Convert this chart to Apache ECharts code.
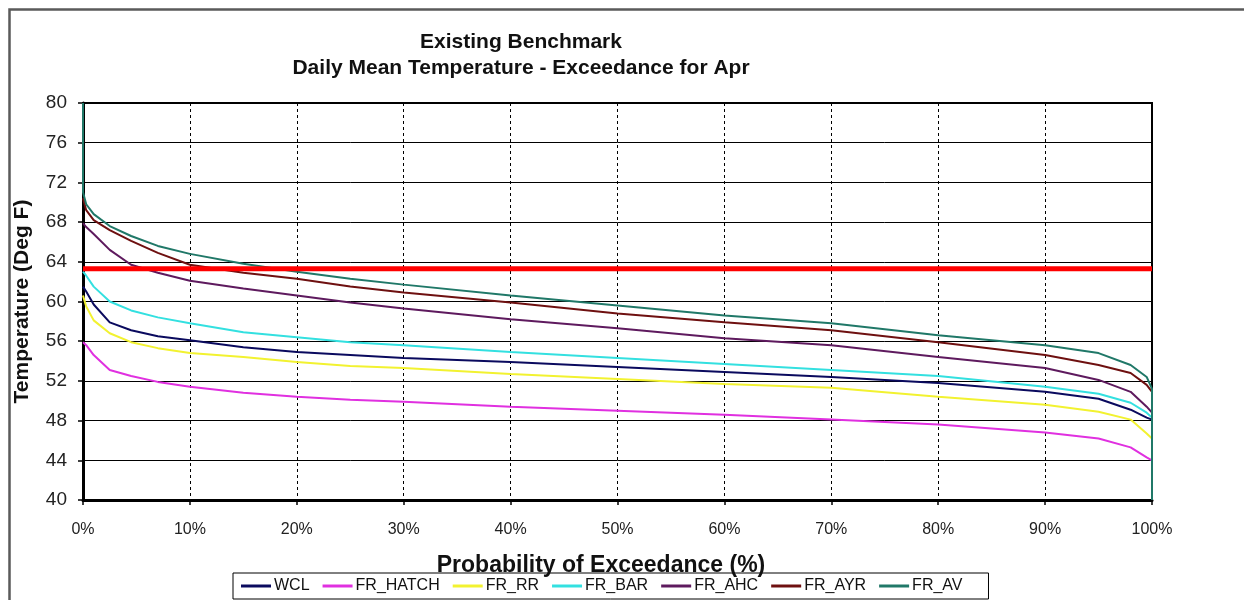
<!DOCTYPE html>
<html>
<head>
<meta charset="utf-8">
<script src="https://cdn.jsdelivr.net/npm/echarts@6/dist/echarts.min.js"></script>
<style>
html,body{margin:0;padding:0;background:#fff;}
#chart{width:1244px;height:600px;}
</style>
</head>
<body>
<div id="chart"></div>
<script>
// Probability of exceedance (%)
const P = [0, 0.3, 1, 2.5, 4.5, 7, 10, 15, 20, 25, 30, 40, 50, 60, 70, 80, 90, 95, 98, 99.5, 100];
const WCL      = [61.5, 61.0, 59.7, 57.9, 57.1, 56.5, 56.1, 55.4, 54.9, 54.6, 54.3, 53.9, 53.4, 52.9, 52.4, 51.8, 50.9, 50.2, 49.1, 48.3, 48.1];
const FR_HATCH = [55.9, 55.6, 54.6, 53.1, 52.5, 51.9, 51.4, 50.8, 50.4, 50.1, 49.9, 49.4, 49.0, 48.6, 48.1, 47.6, 46.8, 46.2, 45.3, 44.3, 44.0];
const FR_RR    = [60.6, 59.5, 58.1, 56.8, 55.9, 55.3, 54.8, 54.4, 53.9, 53.5, 53.3, 52.7, 52.2, 51.7, 51.3, 50.4, 49.6, 48.9, 48.1, 46.7, 46.2];
const FR_BAR   = [63.0, 62.6, 61.5, 60.0, 59.1, 58.4, 57.8, 56.9, 56.4, 55.9, 55.6, 54.9, 54.3, 53.7, 53.1, 52.5, 51.4, 50.7, 49.8, 48.8, 48.3];
const FR_AHC   = [67.9, 67.5, 66.8, 65.2, 63.7, 62.9, 62.1, 61.3, 60.6, 59.9, 59.3, 58.2, 57.3, 56.3, 55.6, 54.4, 53.3, 52.1, 50.9, 49.4, 48.8];
const FR_AYR   = [70.4, 69.2, 68.2, 67.2, 66.1, 64.9, 63.7, 62.9, 62.3, 61.5, 60.9, 59.9, 58.8, 57.9, 57.1, 55.9, 54.6, 53.6, 52.8, 51.6, 50.9];
const FR_AV    = [71.0, 69.8, 68.8, 67.6, 66.6, 65.6, 64.8, 63.8, 63.0, 62.3, 61.7, 60.6, 59.6, 58.6, 57.8, 56.6, 55.6, 54.8, 53.6, 52.4, 51.2];
const FR_AV_EXTREMES = [80, 40]; // value at 0% (max) and at 100% (min)
const BENCHMARK = 63.3;
const X_TICKS = [0, 10, 20, 30, 40, 50, 60, 70, 80, 90, 100];
const Y_TICKS = [40, 44, 48, 52, 56, 60, 64, 68, 72, 76, 80];

const FONT = "'Liberation Sans', Arial, sans-serif";
const pairs = arr => P.map((p, i) => [p, arr[i]]);

const seriesDefs = [
  ['WCL', WCL, '#0a0a5e'],
  ['FR_HATCH', FR_HATCH, '#e030e0'],
  ['FR_RR', FR_RR, '#f2f230'],
  ['FR_BAR', FR_BAR, '#33e0e0'],
  ['FR_AHC', FR_AHC, '#5e1a5e'],
  ['FR_AYR', FR_AYR, '#6e1010'],
  ['FR_AV', FR_AV, '#207868']
];

const series = seriesDefs.map(([name, arr, color]) => {
  let data = pairs(arr);
  if (name === 'FR_AV') data = [[P[0], FR_AV_EXTREMES[0]]].concat(data, [[P[P.length - 1], FR_AV_EXTREMES[1]]]);
  return {
    name, type: 'line', data, showSymbol: false, symbol: 'none',
    lineStyle: { color, width: 2 }, itemStyle: { color }, z: 3, silent: true, animation: false
  };
});
series.push({
  name: 'Benchmark', type: 'line', data: [[0, BENCHMARK], [100, BENCHMARK]],
  symbol: 'none', lineStyle: { color: '#ff0000', width: 5 }, itemStyle: { color: '#ff0000' }, z: 5, animation: false
});

const chart = echarts.init(document.getElementById('chart'), null, { renderer: 'canvas' });
chart.setOption({
  animation: false,
  backgroundColor: '#ffffff',
  textStyle: { fontFamily: FONT },
  graphic: [{
    type: 'rect', left: 7, top: 7, shape: { x: 0, y: 0, width: 1260, height: 620 },
    style: { fill: 'none', stroke: '#5a5a5a', lineWidth: 2.5 }, z: -1, silent: true
  }],
  title: [
    { text: 'Existing Benchmark', left: 516, top: 27, textAlign: 'center',
      textStyle: { fontFamily: FONT, fontSize: 21, fontWeight: 'bold', color: '#111' } },
    { text: 'Daily Mean Temperature - Exceedance for Apr', left: 516, top: 53, textAlign: 'center',
      textStyle: { fontFamily: FONT, fontSize: 21, fontWeight: 'bold', color: '#111' } },
    { text: 'Probability of Exceedance (%)', left: 596, top: 549, textAlign: 'center',
      textStyle: { fontFamily: FONT, fontSize: 23, fontWeight: 'bold', color: '#111' } }
  ],
  legend: {
    data: seriesDefs.map(d => d[0]),
    left: 233, top: 573, orient: 'horizontal',
    itemWidth: 30, itemHeight: 3, itemGap: 13,
    padding: [5, 26, 5, 8],
    borderColor: '#000', borderWidth: 1,
    icon: 'rect',
    backgroundColor: '#fff',
    textStyle: { fontFamily: FONT, fontSize: 16, color: '#111', padding: [0, 0, 0, -2] }
  },
  grid: { left: 83, right: 92, top: 103, bottom: 100, show: true, borderColor: '#000', borderWidth: 2, backgroundColor: 'transparent' },
  xAxis: {
    type: 'value', min: 0, max: 100, interval: 10,
    axisLine: { show: true, onZero: false, lineStyle: { color: '#000', width: 3 } },
    axisTick: { show: true, inside: false, length: 5, lineStyle: { color: '#000', width: 1.5 } },
    axisLabel: { margin: 22, fontFamily: FONT, fontSize: 16, color: '#222', formatter: v => X_TICKS.includes(v) ? v + '%' : '' },
    splitLine: { show: true, lineStyle: { color: '#000', width: 1, type: [3, 3] } }
  },
  yAxis: {
    type: 'value', min: 40, max: 80, interval: 4,
    name: 'Temperature (Deg F)', nameLocation: 'middle', nameGap: 50, nameRotate: 90,
    nameTextStyle: { fontFamily: FONT, fontSize: 21, fontWeight: 'bold', color: '#111' },
    axisLine: { show: true, onZero: false, lineStyle: { color: '#000', width: 3 } },
    axisTick: { show: true, inside: false, length: 5, lineStyle: { color: '#000', width: 1.5 } },
    axisLabel: { margin: 16, fontFamily: FONT, fontSize: 19, color: '#222', formatter: v => Y_TICKS.includes(v) ? String(v) : '' },
    splitLine: { show: true, lineStyle: { color: '#000', width: 1 } }
  },
  series
});
</script>
</body>
</html>
